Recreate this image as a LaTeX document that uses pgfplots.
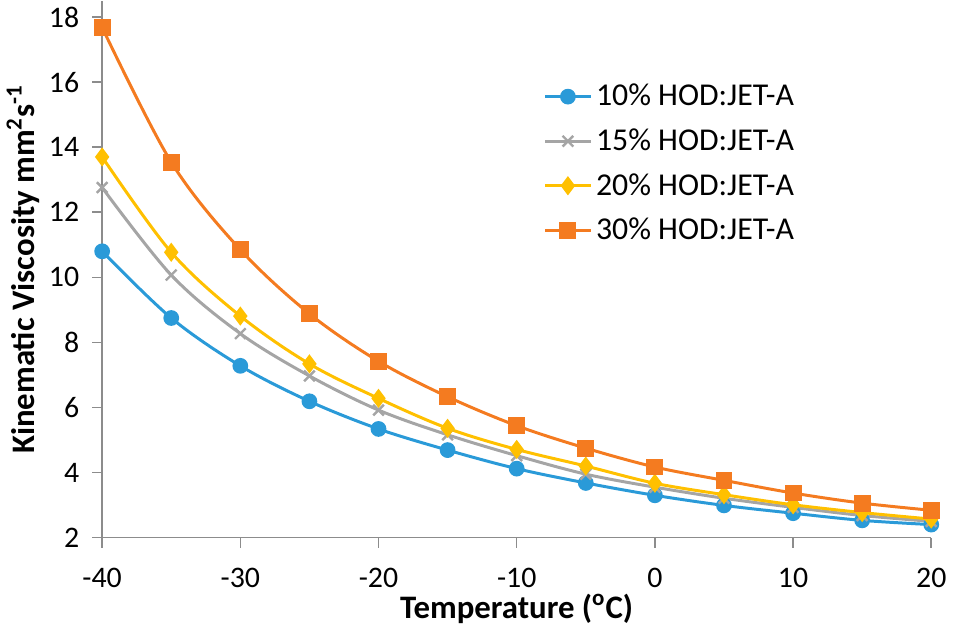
\documentclass[border=0pt]{standalone}
\usepackage{fontspec}
\setmainfont{Carlito}
\usepackage{pgfplots}
\pgfplotsset{compat=1.18}

\definecolor{cblue}{HTML}{2A9AD8}
\definecolor{cgray}{HTML}{A5A5A5}
\definecolor{cyellow}{HTML}{FFC000}
\definecolor{corange}{HTML}{F47B20}
\definecolor{axisgray}{HTML}{8C8C8C}

\begin{document}
\begin{tikzpicture}
\begin{axis}[
    width=417pt, height=270pt,
    scale only axis,
    xmin=-40, xmax=20,
    ymin=2, ymax=18.5,
    xtick={-40,-30,...,20},
    ytick={2,4,...,18},
    axis x line*=bottom,
    axis y line*=left,
    axis line style={axisgray, line width=0.8pt, -},
    tick style={axisgray, line width=0.8pt},
    tick align=outside,
    major tick length=5pt,
    font=\fontsize{15}{18}\selectfont,
    /pgf/number format/assume math mode=true,
    xticklabel style={yshift=-7pt},
    yticklabel style={xshift=-3pt},
    xlabel={\textbf{Temperature (\textsuperscript{o}C)}},
    ylabel={\textbf{Kinematic Viscosity mm\textsuperscript{2}s\textsuperscript{-1}}},
    label style={font=\fontsize{16.5}{19}\selectfont},
    xlabel style={yshift=4pt},
    ylabel style={yshift=-2pt},
    legend style={draw=none, fill=none, at={(0.525,0.86)}, anchor=north west,
        font=\fontsize{16}{19}\selectfont, row sep=6pt},
    legend cell align=left,
    legend image code/.code={
        \draw[mark repeat=2,mark phase=2] plot coordinates {(0cm,0cm) (0.4cm,0cm) (0.8cm,0cm)};
    },
    every axis plot/.append style={line width=1.5pt, smooth, tension=0.55},
]
\addplot[cblue, mark=*, mark size=3.2pt] coordinates {
    (-40,10.80) (-35,8.75) (-30,7.28) (-25,6.19) (-20,5.34) (-15,4.69) (-10,4.12)
    (-5,3.68) (0,3.30) (5,2.99) (10,2.75) (15,2.53) (20,2.40)
};
\addlegendentry{10\% HOD:JET-A}
\addplot[cgray, mark=x, mark size=3.8pt, mark options={line width=1.2pt}] coordinates {
    (-40,12.76) (-35,10.07) (-30,8.27) (-25,6.97) (-20,5.92) (-15,5.16) (-10,4.52)
    (-5,3.95) (0,3.55) (5,3.21) (10,2.93) (15,2.68) (20,2.50)
};
\addlegendentry{15\% HOD:JET-A}
\addplot[cyellow, mark=diamond*, mark size=3.6pt] coordinates {
    (-40,13.70) (-35,10.77) (-30,8.81) (-25,7.34) (-20,6.28) (-15,5.36) (-10,4.71)
    (-5,4.20) (0,3.67) (5,3.32) (10,3.01) (15,2.77) (20,2.57)
};
\addlegendentry{20\% HOD:JET-A}
\addplot[corange, mark=square*, mark size=3.5pt] coordinates {
    (-40,17.68) (-35,13.54) (-30,10.85) (-25,8.88) (-20,7.42) (-15,6.33) (-10,5.44)
    (-5,4.75) (0,4.17) (5,3.76) (10,3.37) (15,3.06) (20,2.84)
};
\addlegendentry{30\% HOD:JET-A}
\end{axis}
\end{tikzpicture}
\end{document}
